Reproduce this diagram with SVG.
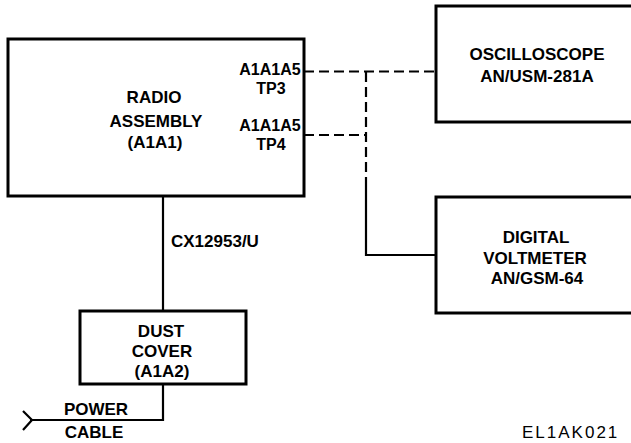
<svg xmlns="http://www.w3.org/2000/svg" width="631" height="443" viewBox="0 0 631 443">
<style>
.box{fill:#fff;stroke:#000;stroke-width:3}
.t{font-family:"Liberation Sans",Arial,sans-serif;font-weight:bold;font-size:17px;fill:#000}
.s{font-size:16px}
.m{text-anchor:middle}
.ln{fill:none;stroke:#000;stroke-width:2.2}
.dash{stroke-dasharray:10 5}
</style>
<rect width="631" height="443" fill="#fff"/>
<g id="connectors">
<path class="ln dash" d="M304 71.5H436"/>
<path class="ln dash" d="M304 135H366"/>
<path class="ln dash" d="M366 72V178"/>
<path class="ln" d="M366 178V255H436"/>
<path class="ln" d="M163 196V311"/>
<path class="ln" d="M163 384V420H30"/>
<polyline class="ln" points="23,411 32,420 23,430"/>
<text class="t" x="171" y="247">CX12953/U</text>
<text class="t m" x="96" y="415">POWER</text>
<text class="t m" x="94" y="438">CABLE</text>
</g>
<g id="radio">
<rect class="box" x="8" y="39" width="296" height="157"/>
<text class="t m" x="154" y="103">RADIO</text>
<text class="t m" x="156" y="127">ASSEMBLY</text>
<text class="t m" x="155" y="148">(A1A1)</text>
<text class="t s m" x="270" y="75">A1A1A5</text>
<text class="t s m" x="271" y="94">TP3</text>
<text class="t s m" x="270" y="131">A1A1A5</text>
<text class="t s m" x="271" y="150">TP4</text>
</g>
<g id="oscilloscope">
<rect class="box" x="436" y="6" width="210" height="116"/>
<text class="t m" x="537" y="60">OSCILLOSCOPE</text>
<text class="t m" x="537" y="82">AN/USM-281A</text>
</g>
<g id="voltmeter">
<rect class="box" x="436" y="197" width="210" height="116"/>
<text class="t m" x="536" y="243">DIGITAL</text>
<text class="t m" x="535" y="264">VOLTMETER</text>
<text class="t m" x="537" y="284">AN/GSM-64</text>
</g>
<g id="dustcover">
<rect class="box" x="80" y="311" width="166" height="73"/>
<text class="t m" x="161" y="337">DUST</text>
<text class="t m" x="162" y="357">COVER</text>
<text class="t m" x="162" y="377">(A1A2)</text>
</g>
<text x="522" y="438" style="font-family:'Liberation Sans',Arial,sans-serif;font-size:17px;letter-spacing:2px;fill:#000">EL1AK021</text>
</svg>
